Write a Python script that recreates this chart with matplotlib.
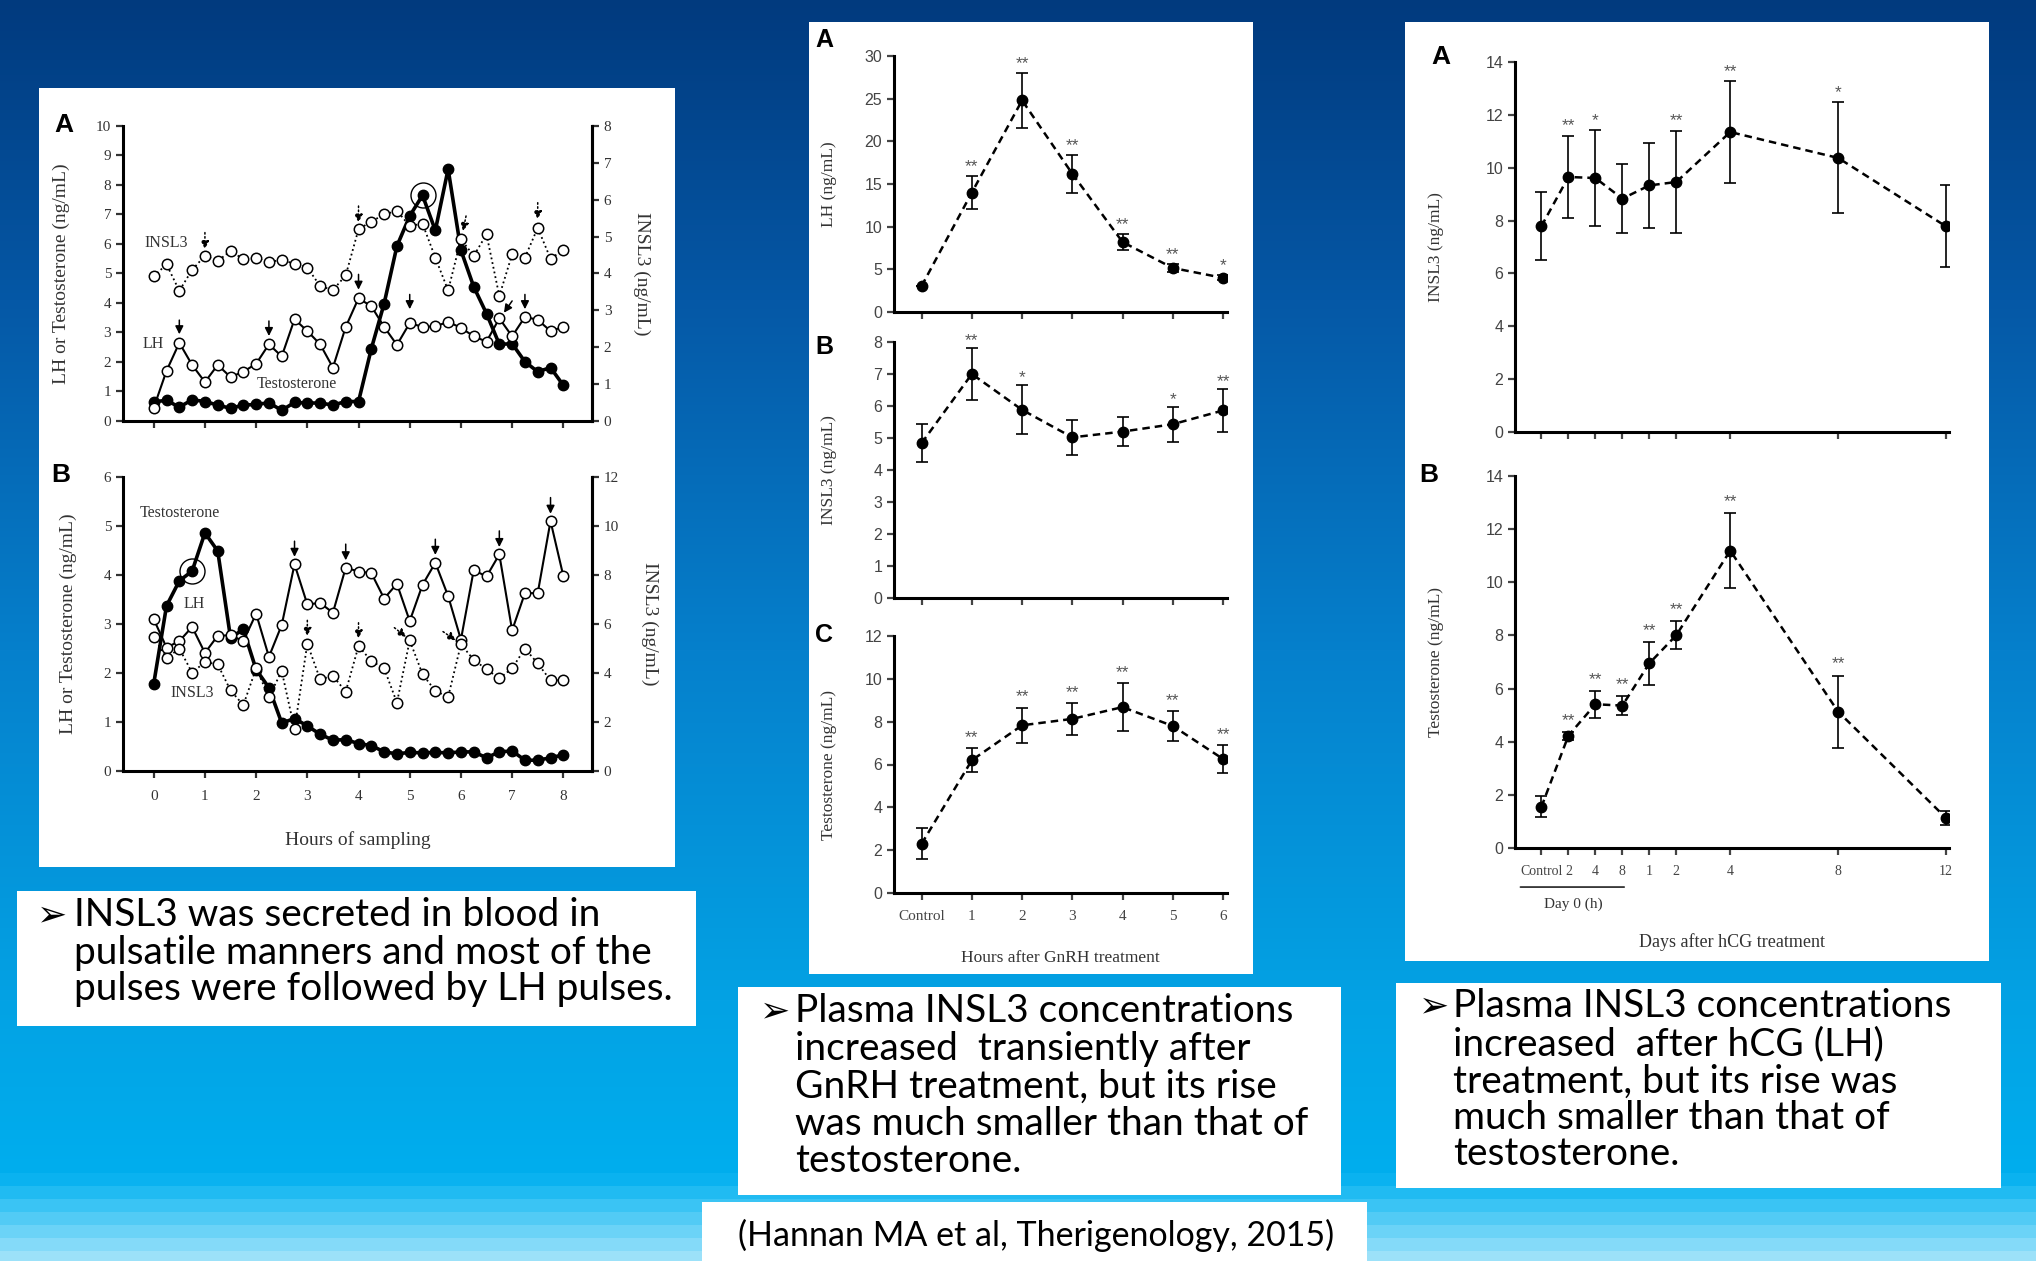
import numpy as np
import matplotlib
matplotlib.use("Agg")
import matplotlib.pyplot as plt
from matplotlib.patches import Rectangle
from matplotlib.colors import to_rgb

W, H = 2036, 1261

# ---- DATA ----
hours = np.arange(0, 8.01, 0.25)

a_lh = [0.45, 1.7, 2.65, 1.9, 1.32, 1.9, 1.49, 1.67, 1.94, 2.6, 2.19, 3.45, 3.05, 2.6, 1.81, 3.19,
        4.16, 3.89, 3.19, 2.58, 3.32, 3.19, 3.21, 3.36, 3.16, 2.87, 2.69, 3.48, 2.87, 3.53, 3.43, 3.05, 3.19]
a_testo = [0.65, 0.7, 0.47, 0.72, 0.66, 0.54, 0.43, 0.54, 0.56, 0.62, 0.36, 0.63, 0.61, 0.61, 0.54, 0.66,
           0.66, 2.45, 3.98, 5.93, 6.95, 7.65, 6.46, 8.54, 5.79, 4.55, 3.64, 2.6, 2.62, 2.01, 1.67, 1.81, 1.21]
a_insl3 = [3.92, 4.25, 3.53, 4.10, 4.48, 4.34, 4.61, 4.39, 4.41, 4.32, 4.36, 4.27, 4.16, 3.66, 3.55, 3.95,
           5.2, 5.41, 5.6, 5.7, 5.29, 5.35, 4.43, 3.54, 4.93, 4.48, 5.06, 3.39, 4.52, 4.43, 5.24, 4.40, 4.64]

b_lh = [3.10, 2.52, 2.65, 2.94, 2.41, 2.76, 2.77, 2.65, 3.21, 2.33, 2.98, 4.22, 3.40, 3.43, 3.23, 4.15,
        4.07, 4.04, 3.52, 3.82, 3.06, 3.80, 4.25, 3.57, 2.68, 4.10, 3.97, 4.42, 2.87, 3.63, 3.63, 5.10, 3.98]
b_testo = [1.78, 3.37, 3.88, 4.08, 4.86, 4.49, 2.72, 2.89, 2.07, 1.70, 0.98, 1.07, 0.92, 0.75, 0.63, 0.64,
           0.56, 0.52, 0.39, 0.35, 0.38, 0.37, 0.38, 0.37, 0.39, 0.39, 0.27, 0.39, 0.41, 0.22, 0.22, 0.27, 0.33]
b_insl3 = [5.47, 4.60, 5.0, 4.01, 4.45, 4.35, 3.29, 2.69, 4.19, 3.02, 4.08, 1.70, 5.20, 3.74, 3.88, 3.24,
           5.10, 4.49, 4.19, 2.79, 5.33, 3.95, 3.27, 3.02, 5.17, 4.54, 4.15, 3.78, 4.19, 5.0, 4.39, 3.70, 3.71]

# pulse arrows: (tail_t, tail_y, tip_t, tip_y)
a_lh_arrows = [(0.5, 3.42, 0.5, 2.94), (2.25, 3.39, 2.25, 2.88), (4.0, 4.97, 4.0, 4.45),
               (5.0, 4.29, 5.0, 3.79), (7.25, 4.29, 7.25, 3.79), (7.0, 4.07, 6.84, 3.67)]
a_insl3_arrows = [(1.0, 5.11, 1.0, 4.66), (4.0, 5.83, 4.0, 5.38), (6.1, 5.56, 6.04, 5.15), (7.5, 5.92, 7.5, 5.47)]
b_lh_arrows = [(2.75, 4.69, 2.75, 4.37), (3.75, 4.63, 3.75, 4.30), (5.5, 4.73, 5.5, 4.41),
               (6.75, 4.90, 6.75, 4.57), (7.75, 5.58, 7.75, 5.25)]
b_insl3_arrows = [(3.0, 6.15, 3.0, 5.51), (4.0, 6.05, 4.0, 5.41), (4.7, 5.85, 4.93, 5.47), (5.65, 5.69, 5.9, 5.33)]

gnrh_labels = ["Control", "1", "2", "3", "4", "5", "6"]
gnrh_lh = [3.05, 14.0, 24.8, 16.2, 8.2, 5.16, 4.0]
gnrh_lh_err = [0.0, 1.9, 3.2, 2.2, 0.95, 0.5, 0.3]
gnrh_lh_sig = ["", "**", "**", "**", "**", "**", "*"]
gnrh_insl3 = [4.84, 7.0, 5.88, 5.02, 5.2, 5.43, 5.86]
gnrh_insl3_err = [0.59, 0.8, 0.77, 0.55, 0.45, 0.55, 0.67]
gnrh_insl3_sig = ["", "**", "*", "", "", "*", "**"]
gnrh_testo = [2.3, 6.2, 7.83, 8.13, 8.68, 7.8, 6.26]
gnrh_testo_err = [0.72, 0.57, 0.83, 0.73, 1.13, 0.7, 0.65]
gnrh_testo_sig = ["", "**", "**", "**", "**", "**", "**"]

hcg_labels = ["Control", "2", "4", "8", "1", "2", "4", "8", "12"]
hcg_pos = [0, 1, 2, 3, 4, 5, 7, 11, 15]
hcg_insl3 = [7.79, 9.65, 9.61, 8.83, 9.33, 9.46, 11.35, 10.37, 7.78]
hcg_insl3_err = [1.3, 1.54, 1.8, 1.3, 1.6, 1.92, 1.92, 2.1, 1.55]
hcg_insl3_sig = ["", "**", "*", "", "", "**", "**", "*", ""]
hcg_testo = [1.55, 4.23, 5.41, 5.36, 6.95, 8.01, 11.19, 5.13, 1.13]
hcg_testo_err = [0.4, 0.15, 0.5, 0.36, 0.8, 0.52, 1.42, 1.36, 0.28]
hcg_testo_sig = ["", "**", "**", "**", "**", "**", "**", "**", ""]

SERIF = "Liberation Serif"
SANS = "Liberation Sans"
TXT = ["Lato", "DejaVu Sans"]


def rect(x0, y0, x1, y1):
    return [x0 / W, 1 - y1 / H, (x1 - x0) / W, (y1 - y0) / H]


def white_box(x0, y0, x1, y1):
    fig.patches.append(Rectangle((x0 / W, 1 - y1 / H), (x1 - x0) / W, (y1 - y0) / H,
                                 transform=fig.transFigure, facecolor="white", edgecolor="none", zorder=-5))


fig = plt.figure(figsize=(W / 100, H / 100), dpi=100)

# ---- background gradient with bands at the bottom ----
bg = fig.add_axes([0, 0, 1, 1], zorder=-10)
stops_y = [0, 300, 650, 1000, 1173]
stops_c = ["#013a7e", "#0558a6", "#0680cc", "#03a2e4", "#00aeee"]
rows = np.zeros((H, 1, 3))
for y in range(H):
    if y < 1173:
        for i in range(len(stops_y) - 1):
            if stops_y[i] <= y < stops_y[i + 1]:
                f = (y - stops_y[i]) / (stops_y[i + 1] - stops_y[i])
                c0, c1 = np.array(to_rgb(stops_c[i])), np.array(to_rgb(stops_c[i + 1]))
                rows[y, 0] = c0 + (c1 - c0) * f
    else:
        bands = ["#0ab2f0", "#20bbf2", "#3ac4f4", "#52cbf5", "#6bd3f7", "#84daf9", "#9ce1f9"]
        rows[y, 0] = to_rgb(bands[min((y - 1173) // 13, len(bands) - 1)])
bg.imshow(rows, aspect="auto", extent=[0, 1, 0, 1], interpolation="nearest")
bg.axis("off")

# ---- white panels ----
white_box(39, 88, 675, 867)
white_box(17, 891, 696, 1026)
white_box(809, 22, 1253, 974)
white_box(738, 987, 1341, 1195)
white_box(1405, 22, 1989, 961)
white_box(1396, 983, 2001, 1188)
white_box(702, 1202, 1367, 1261)


def style_axes(ax, lw=2.2, right=False, fs=10, fam=SERIF, color="#333333"):
    ax.set_facecolor("none")
    ax.spines["top"].set_visible(False)
    ax.spines["right"].set_visible(right)
    for s in ["left", "bottom", "right"]:
        ax.spines[s].set_linewidth(lw)
    ax.tick_params(direction="out", width=1.6, length=5, labelsize=fs, colors=color)
    for lab in ax.get_xticklabels() + ax.get_yticklabels():
        lab.set_family(fam)


def draw_arrows(ax, arrows, ls):
    for t0, y0, t1, y1 in arrows:
        ax.annotate("", xy=(t1, y1), xytext=(t0, y0),
                    arrowprops=dict(arrowstyle="-|>", color="black", lw=1.1, linestyle=ls,
                                    mutation_scale=12, shrinkA=0, shrinkB=0))


def pulse_panel(rect_px, lh, testo, insl3, ylim_l, ylim_r, lh_arrows, in_arrows, circ_i, xlabels):
    ax = fig.add_axes(rect(*rect_px))
    ax.plot(hours, testo, "-o", color="black", lw=2.6, ms=7.5, zorder=3)
    ax.plot(hours, lh, "-o", color="black", lw=1.5, ms=7.5, mfc="white", mew=1.1, zorder=4)
    ax.plot(hours[circ_i], testo[circ_i], "o", ms=18, mfc="none", mec="black", mew=1.0, zorder=5)
    ax.set_xlim(-0.6, 8.56)
    ax.set_ylim(*ylim_l)
    ax.set_xticks(range(9))
    ax.set_yticks(np.arange(ylim_l[0], ylim_l[1] + 0.1, 1))
    if not xlabels:
        ax.set_xticklabels([])
    style_axes(ax, right=True, fs=11)
    ax.set_ylabel("LH or Testosterone (ng/mL)", family=SERIF, fontsize=14, color="#333333", labelpad=19)
    axr = ax.twinx()
    axr.plot(hours, insl3, ":o", color="black", lw=1.3, ms=7.5, mfc="white", mew=1.1, zorder=4)
    axr.set_ylim(*ylim_r)
    axr.set_yticks(np.arange(ylim_r[0], ylim_r[1] + 0.1, 1 if ylim_r[1] <= 8 else 2))
    style_axes(axr, right=True, fs=11)
    axr.spines["left"].set_visible(False)
    axr.spines["bottom"].set_visible(False)
    axr.set_ylabel("INSL3 (ng/mL)", family=SERIF, fontsize=14, color="#333333",
                   rotation=270, labelpad=28)
    draw_arrows(ax, lh_arrows, "-")
    draw_arrows(axr, in_arrows, ":")
    return ax, axr


axA, axAr = pulse_panel((123, 126, 592, 421), a_lh, a_testo, a_insl3, (0, 10), (0, 8),
                        a_lh_arrows, a_insl3_arrows, 21, False)
axA.text(0.24, 6.05, "INSL3", family=SERIF, fontsize=11.5, ha="center", va="center", color="#333333")
axA.text(0.0, 2.6, "LH", family=SERIF, fontsize=11.5, ha="center", va="center", color="#333333")
axA.text(2.79, 1.24, "Testosterone", family=SERIF, fontsize=11.5, ha="center", va="center", color="#333333")
fig.text(64 / W, 1 - 125 / H, "A", fontsize=19, weight="bold", family=SANS, ha="center", va="center")

axB, axBr = pulse_panel((123, 477, 592, 771), b_lh, b_testo, b_insl3, (0, 6), (0, 12),
                        b_lh_arrows, b_insl3_arrows, 3, True)
axB.set_xlabel("Hours of sampling", family=SERIF, fontsize=14, color="#333333", labelpad=20)
axB.tick_params(axis="x", pad=9)
axB.text(0.5, 5.27, "Testosterone", family=SERIF, fontsize=11.5, ha="center", va="center", color="#333333")
axB.text(0.8, 3.4, "LH", family=SERIF, fontsize=11.5, ha="center", va="center", color="#333333")
axB.text(0.75, 1.6, "INSL3", family=SERIF, fontsize=11.5, ha="center", va="center", color="#333333")
fig.text(61 / W, 1 - 475 / H, "B", fontsize=19, weight="bold", family=SANS, ha="center", va="center")


def err_panel(rect_px, xs, vals, errs, sigs, ylim, ystep, ylabel, xlim, labels=None, star_off=0.0, lpad=24):
    ax = fig.add_axes(rect(*rect_px))
    ax.errorbar(xs, vals, yerr=errs, fmt="o", color="black", ms=7.5, capsize=4, elinewidth=1.2,
                capthick=1.2, zorder=3)
    ax.plot(xs, vals, "--", color="black", lw=1.8, dashes=(3, 2), zorder=2)
    for x, v, e, s in zip(xs, vals, errs, sigs):
        if s:
            ax.text(x, v + e + star_off, s, ha="center", va="bottom", fontsize=12.5,
                    family=SANS, color="#555555")
    ax.set_xlim(*xlim)
    ax.set_ylim(*ylim)
    ax.set_yticks(np.arange(ylim[0], ylim[1] + 0.01, ystep))
    ax.set_xticks(xs)
    if labels is None:
        ax.set_xticklabels([])
    else:
        ax.set_xticklabels(labels)
    style_axes(ax, lw=2.2, fs=11.5, fam=SANS, color="#444444")
    ax.set_ylabel(ylabel, family=SERIF, fontsize=12.5, color="#333333", labelpad=lpad)
    return ax


gx = list(range(7))
ax1 = err_panel((894, 56, 1227, 312), gx, gnrh_lh, gnrh_lh_err, gnrh_lh_sig, (0, 30), 5,
                "LH (ng/mL)", (-0.55, 6.08), star_off=0.2, lpad=20)
ax2 = err_panel((894, 342, 1227, 598), gx, gnrh_insl3, gnrh_insl3_err, gnrh_insl3_sig, (0, 8), 1,
                "INSL3 (ng/mL)", (-0.55, 6.08), star_off=0.0, lpad=26)
ax3 = err_panel((894, 636, 1227, 893), gx, gnrh_testo, gnrh_testo_err, gnrh_testo_sig, (0, 12), 2,
                "Testosterone (ng/mL)", (-0.55, 6.08), labels=gnrh_labels, star_off=0.15, lpad=20)
ax3.set_xticklabels(gnrh_labels, family=SERIF, fontsize=11)
ax3.tick_params(axis="x", pad=7)
ax3.set_xlabel("Hours after GnRH treatment", family=SERIF, fontsize=12.5, color="#333333", labelpad=20)
for lab, (px, py) in zip("ABC", [(824, 40), (824, 347), (824, 635)]):
    fig.text(px / W, 1 - py / H, lab, fontsize=18, weight="bold", family=SANS, ha="center", va="center")

ax4 = err_panel((1515, 62, 1949, 432), hcg_pos, hcg_insl3, hcg_insl3_err, hcg_insl3_sig, (0, 14), 2,
                "INSL3 (ng/mL)", (-0.98, 15.11), star_off=0.1, lpad=30)
ax5 = err_panel((1515, 476, 1949, 848), hcg_pos, hcg_testo, hcg_testo_err, hcg_testo_sig, (0, 14), 2,
                "Testosterone (ng/mL)", (-0.98, 15.11), labels=hcg_labels, star_off=0.15, lpad=30)
ax5.set_xticklabels(hcg_labels, family=SERIF, fontsize=10)
ax5.tick_params(axis="x", pad=7)
ax5.set_xlabel("Days after hCG treatment", family=SERIF, fontsize=13, color="#333333", labelpad=40)
ax5.annotate("", xy=(3.17, -0.105), xytext=(-0.88, -0.105), xycoords=("data", "axes fraction"),
             arrowprops=dict(arrowstyle="-", color="#333333", lw=1.3))
ax5.text(1.19, -0.15, "Day 0 (h)", transform=ax5.get_xaxis_transform(), family=SERIF,
         fontsize=11, ha="center", va="center", color="#333333")
for lab, (px, py) in zip("AB", [(1441, 57), (1429, 475)]):
    fig.text(px / W, 1 - py / H, lab, fontsize=19, weight="bold", family=SANS, ha="center", va="center")

# ---- text boxes ----
def bullet_text(bx, tx, ys, lines):
    fig.text(bx / W, 1 - ys[0] / H, "\u27a2", family=["DejaVu Sans"], fontsize=26,
             ha="left", va="center", color="black")
    for y, line in zip(ys, lines):
        fig.text(tx / W, 1 - y / H, line, family=TXT, fontsize=28, ha="left", va="center", color="black")


bullet_text(37, 74, [915, 953, 989],
            ["INSL3 was secreted in blood in", "pulsatile manners and most of the",
             "pulses were followed by LH pulses."])
bullet_text(760, 795, [1011, 1049, 1087, 1124, 1161],
            ["Plasma INSL3 concentrations", "increased  transiently after", "GnRH treatment, but its rise",
             "was much smaller than that of", "testosterone."])
bullet_text(1419, 1453, [1006, 1044, 1082, 1118, 1154],
            ["Plasma INSL3 concentrations", "increased  after hCG (LH)", "treatment, but its rise was",
             "much smaller than that of", "testosterone."])
fig.text(1036 / W, 1 - 1235 / H, "(Hannan MA et al, Therigenology, 2015)", family=TXT, fontsize=24.5,
         ha="center", va="center", color="black")

fig.savefig("out.png", dpi=100)
